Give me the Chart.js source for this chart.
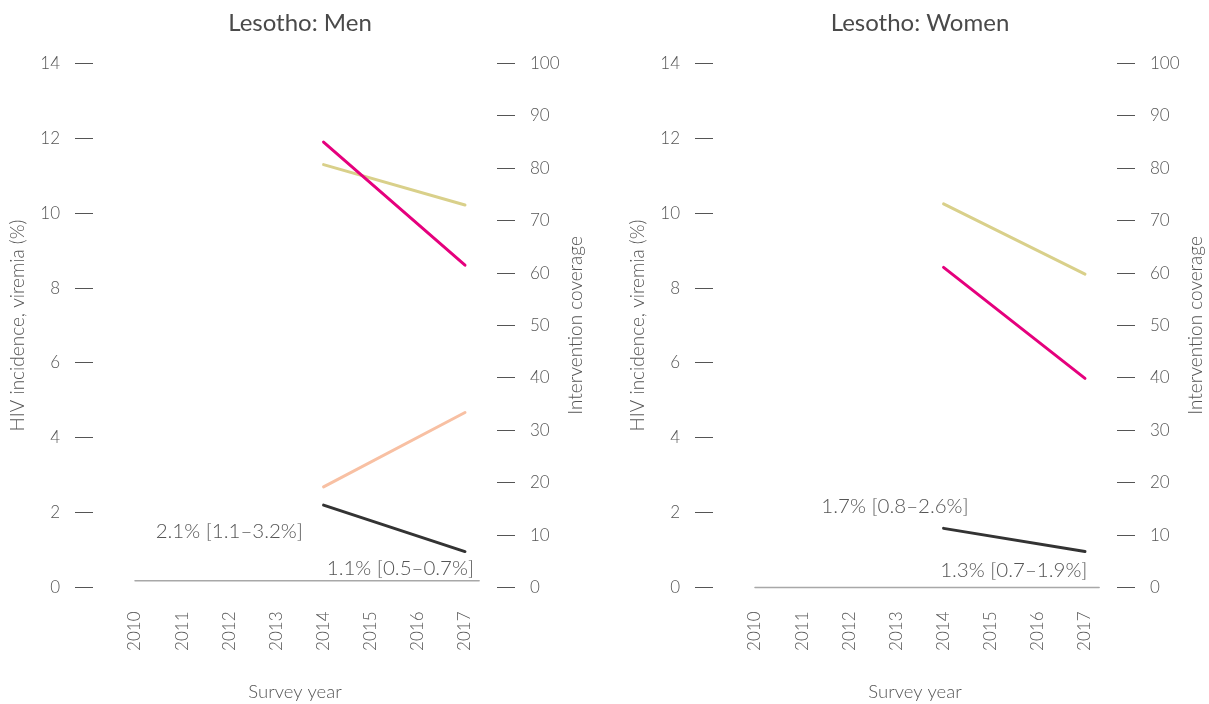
<!DOCTYPE html>
<html>
<head>
<meta charset="utf-8">
<script src="https://cdn.jsdelivr.net/npm/chart.js@4.4.1/dist/chart.umd.min.js"></script>
<style>
  html, body { margin: 0; padding: 0; background: #fff; }
  body { width: 1209px; height: 704px; position: relative; overflow: hidden; }
  .panel { position: absolute; top: 0; width: 600px; height: 704px; }
  #men-panel { left: 0; }
  #women-panel { left: 620px; }
</style>
</head>
<body>
<div class="panel" id="men-panel"><canvas id="men-chart" width="600" height="704"></canvas></div>
<div class="panel" id="women-panel"><canvas id="women-chart" width="600" height="704"></canvas></div>
<script>
// --- data ---
const surveyYears = [2014, 2017];
const baselineYears = [2010, 2017.3];

const menCoverageMagenta = [85.0, 61.5];
const menCoverageTan = [80.7, 73.0];
const menCoveragePeach = [19.2, 33.4];
const menIncidence = [2.2, 0.96];
const menBaseline = [0.18, 0.18];
const menNotes = ['2.1% [1.1–3.2%]', '1.1% [0.5–0.7%]'];

const womenCoverageTan = [73.2, 59.8];
const womenCoverageMagenta = [61.1, 39.9];
const womenIncidence = [1.58, 0.96];
const womenBaseline = [0, 0];
const womenNotes = ['1.7% [0.8–2.6%]', '1.3% [0.7–1.9%]'];

const FONT = 'Lato, "Noto Sans", sans-serif';
const TEXT = '#555555';
const MAGENTA = '#e5007d';
const TAN = '#d9d08a';
const PEACH = '#f8c0a3';
const DARK = '#333333';

const pts = (xs, ys) => xs.map((x, i) => ({ x: x, y: ys[i] }));

const lineSet = (label, xs, ys, color, axis, width) => ({
  label: label,
  data: pts(xs, ys),
  borderColor: color,
  backgroundColor: color,
  borderWidth: width,
  borderCapStyle: 'round',
  pointRadius: 0,
  pointHoverRadius: 0,
  fill: false,
  tension: 0,
  clip: false,
  yAxisID: axis
});

// text notes placed in data space, right-axis title reading upwards
const notesPlugin = {
  id: 'notes',
  afterDatasetsDraw(chart, args, opts) {
    const ctx = chart.ctx;
    const xs = chart.scales.x, ys = chart.scales.y;
    ctx.save();
    ctx.font = '300 20.5px ' + FONT;
    ctx.fillStyle = TEXT;
    ctx.textAlign = 'center';
    ctx.textBaseline = 'middle';
    (opts.items || []).forEach(n => {
      ctx.fillText(n.text, xs.getPixelForValue(n.x), ys.getPixelForValue(n.y));
    });
    ctx.restore();
  },
  afterDraw(chart, args, opts) {
    const ctx = chart.ctx;
    const r = chart.scales.y1;
    ctx.save();
    ctx.translate(r.right - 24, (r.top + r.bottom) / 2);
    ctx.rotate(-Math.PI / 2);
    ctx.font = '300 19px ' + FONT;
    ctx.fillStyle = TEXT;
    ctx.textAlign = 'center';
    ctx.textBaseline = 'middle';
    ctx.fillText(opts.rightTitle || '', 0, 0);
    ctx.restore();
  }
};

const tickFont = { family: FONT, size: 17, weight: 300 };
const titleFont = { family: FONT, size: 19, weight: 300 };

const buildChart = (canvasId, title, datasets, noteItems) => {
  return new Chart(document.getElementById(canvasId), {
    type: 'line',
    data: { datasets: datasets },
    plugins: [notesPlugin],
    options: {
      responsive: false,
      animation: false,
      layout: { padding: 0 },
      plugins: {
        legend: { display: false },
        tooltip: { enabled: false },
        title: {
          display: true,
          text: title,
          color: '#4a4a4a',
          font: { family: FONT, size: 24, weight: 'normal' },
          padding: { top: 8.6, bottom: 26.1 }
        },
        notes: { items: noteItems, rightTitle: 'Intervention coverage' }
      },
      scales: {
        x: {
          type: 'linear',
          min: 2009.109,
          max: 2017.679,
          afterFit: s => { s.height = 116.5; },
          border: { display: false },
          grid: { display: false, drawTicks: false },
          ticks: {
            stepSize: 1,
            includeBounds: false,
            autoSkip: false,
            minRotation: 90,
            maxRotation: 90,
            padding: 24,
            color: TEXT,
            font: tickFont,
            callback: v => String(v)
          },
          title: {
            display: true,
            text: 'Survey year',
            color: TEXT,
            font: { family: FONT, size: 18.5, weight: 300 },
            padding: { top: 4, bottom: 1 }
          }
        },
        y: {
          position: 'left',
          min: 0,
          max: 14,
          afterFit: s => { s.width = 93; },
          border: { display: false },
          grid: { drawOnChartArea: false, drawTicks: true, tickLength: 18, tickColor: '#555', tickWidth: 1 },
          ticks: { stepSize: 2, padding: 15, color: TEXT, font: tickFont },
          title: {
            display: true,
            text: 'HIV incidence, viremia (%)',
            color: TEXT,
            font: titleFont,
            padding: { top: 6.6, bottom: 0 }
          }
        },
        y1: {
          position: 'right',
          min: 0,
          max: 100,
          afterFit: s => { s.width = 103; },
          border: { display: false },
          grid: { drawOnChartArea: false, drawTicks: true, tickLength: 18, tickColor: '#555', tickWidth: 1 },
          ticks: { stepSize: 10, padding: 15, color: TEXT, font: tickFont }
        }
      }
    }
  });
};

buildChart('men-chart', 'Lesotho: Men', [
  lineSet('Baseline', baselineYears, menBaseline, '#a8a8a8', 'y', 1.5),
  lineSet('Coverage (pink)', surveyYears, menCoverageMagenta, MAGENTA, 'y1', 3),
  lineSet('Coverage (tan)', surveyYears, menCoverageTan, TAN, 'y1', 3),
  lineSet('Coverage (peach)', surveyYears, menCoveragePeach, PEACH, 'y1', 3),
  lineSet('HIV incidence', surveyYears, menIncidence, DARK, 'y', 3)
], [
  { text: menNotes[0], x: 2012.0, y: 1.49 },
  { text: menNotes[1], x: 2015.63, y: 0.52 }
]);

buildChart('women-chart', 'Lesotho: Women', [
  lineSet('Baseline', baselineYears, womenBaseline, '#a8a8a8', 'y', 1.5),
  lineSet('Coverage (tan)', surveyYears, womenCoverageTan, TAN, 'y1', 3),
  lineSet('Coverage (pink)', surveyYears, womenCoverageMagenta, MAGENTA, 'y1', 3),
  lineSet('HIV incidence', surveyYears, womenIncidence, DARK, 'y', 3)
], [
  { text: womenNotes[0], x: 2012.97, y: 2.16 },
  { text: womenNotes[1], x: 2015.49, y: 0.45 }
]);
</script>
</body>
</html>
